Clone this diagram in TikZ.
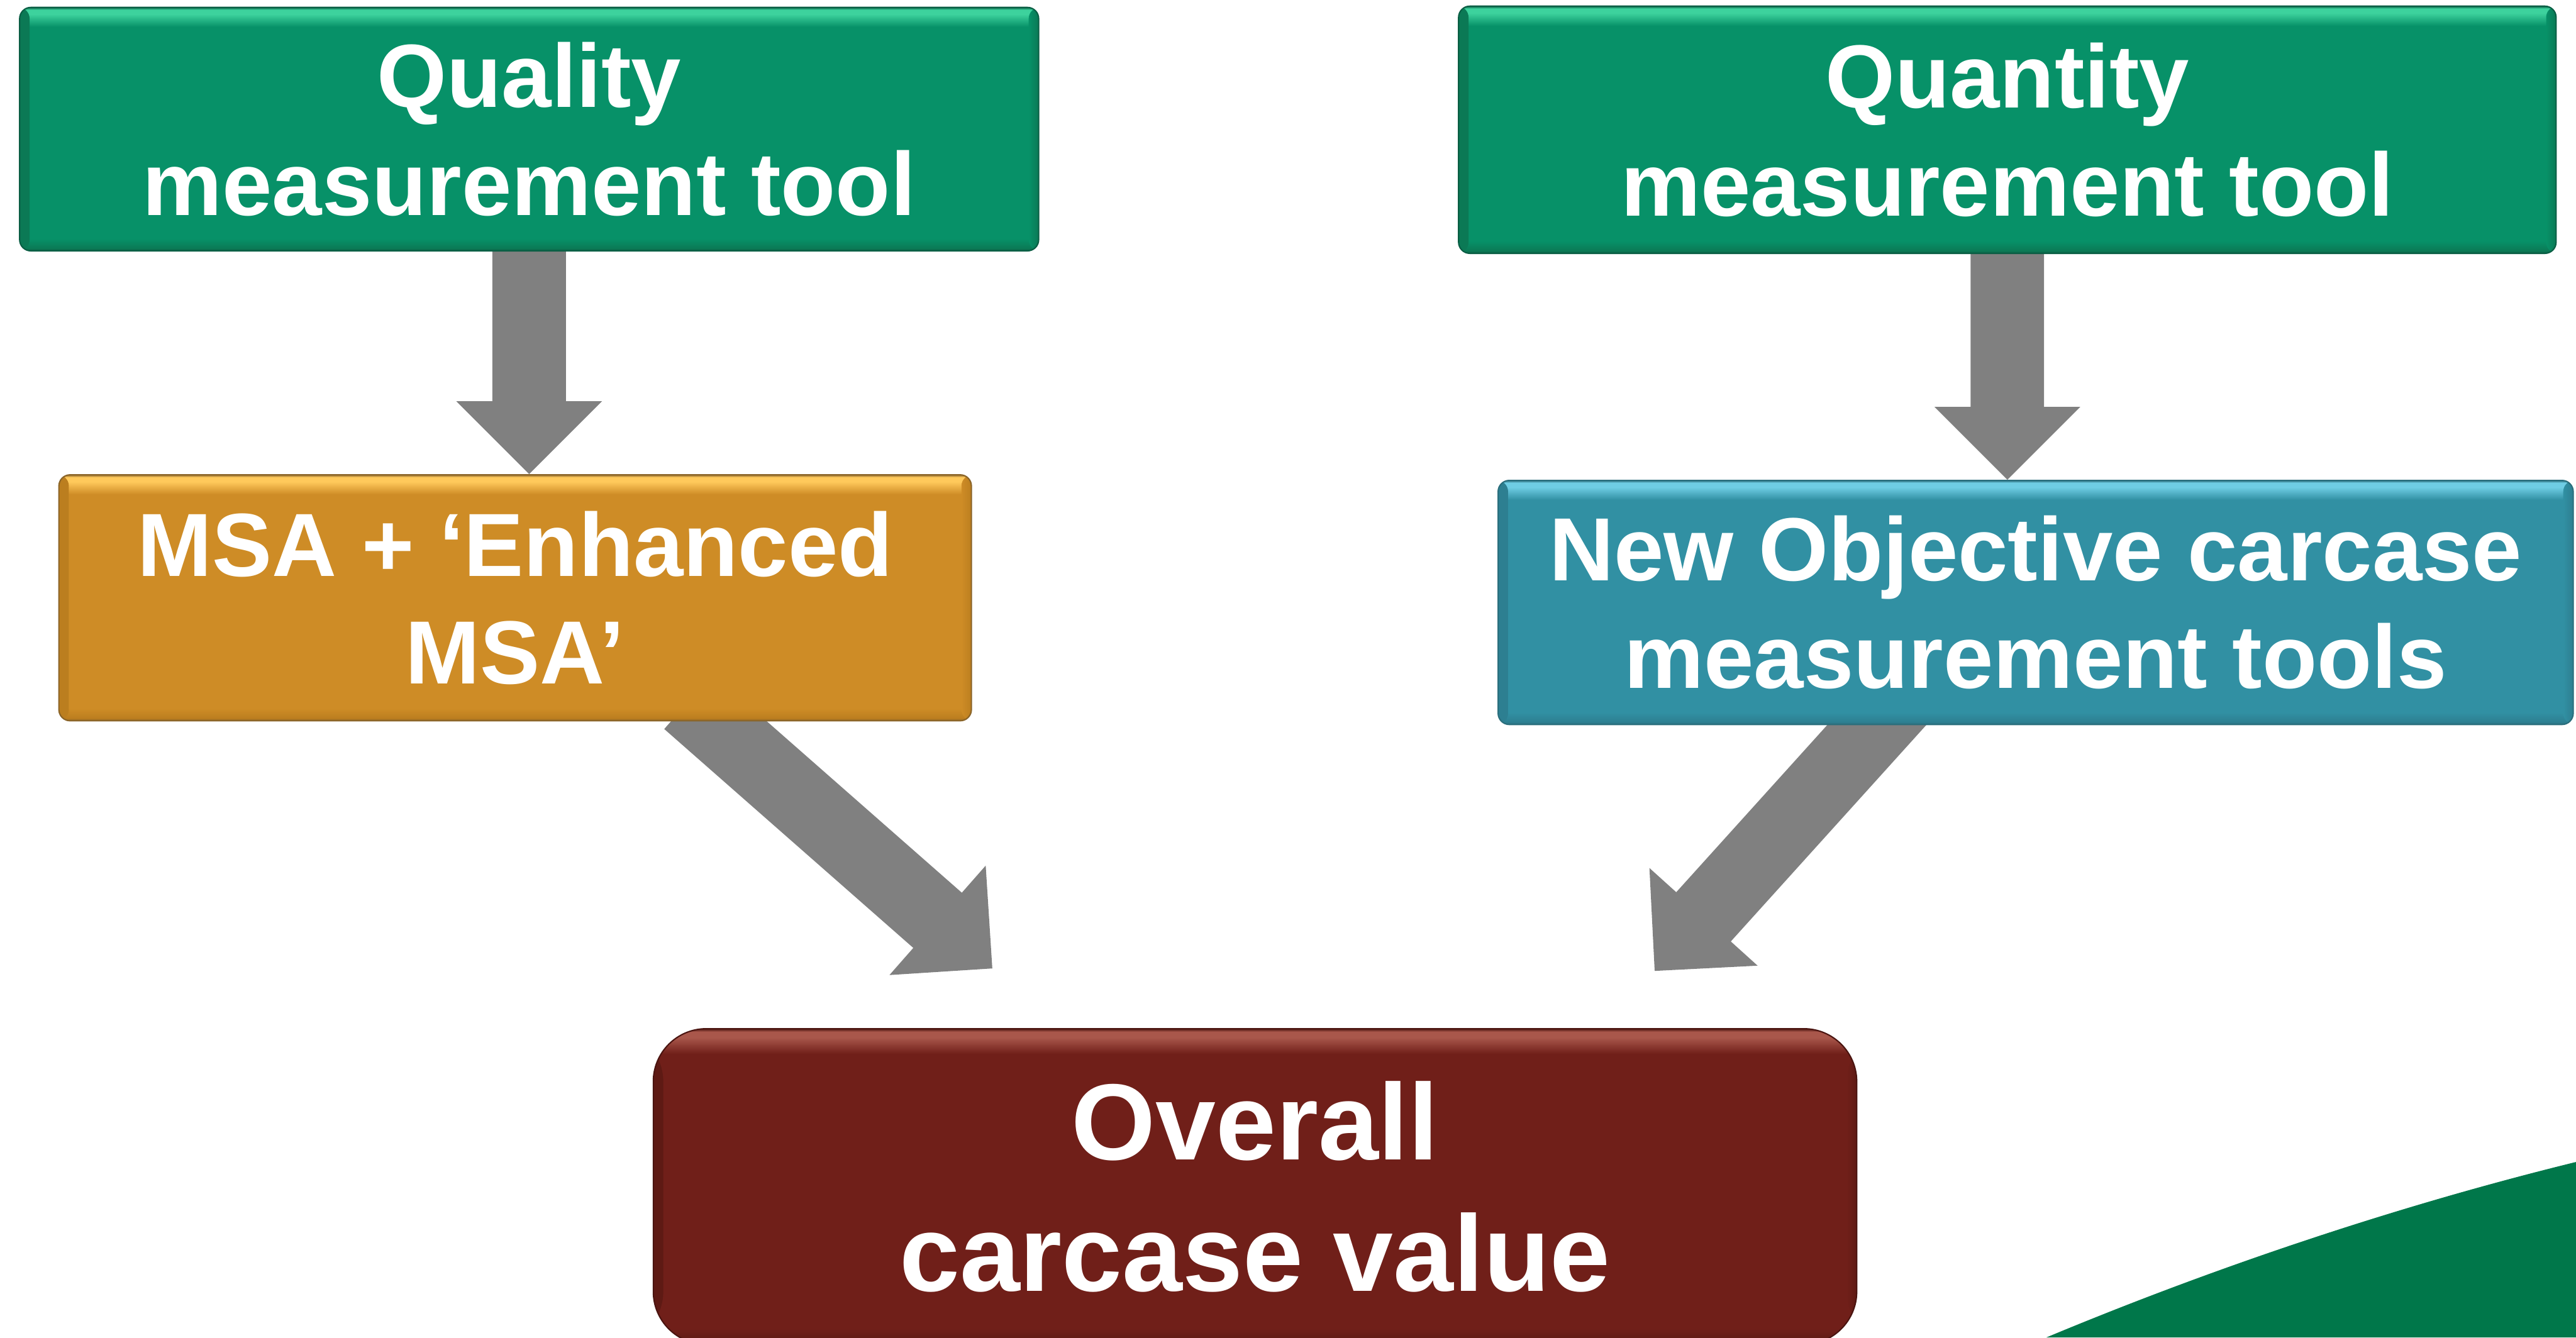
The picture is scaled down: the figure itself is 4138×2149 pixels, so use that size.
\documentclass[tikz,border=0pt]{standalone}
\usepackage{fontspec}
\setmainfont{Liberation Sans}
\usetikzlibrary{calc}

\pgfdeclarelayer{arrowlayer}
\pgfsetlayers{arrowlayer,main}

% box palettes: edge, lower band, body, highlight
\definecolor{grEdge}{HTML}{0A5E44}
\definecolor{grLow}{HTML}{0B7955}
\definecolor{grBody}{HTML}{079168}
\definecolor{grHigh}{HTML}{3DD29D}
\definecolor{orEdge}{HTML}{8A6428}
\definecolor{orLow}{HTML}{BB7E1F}
\definecolor{orBody}{HTML}{CE8C26}
\definecolor{orHigh}{HTML}{FFC95B}
\definecolor{tlEdge}{HTML}{2A6E7C}
\definecolor{tlLow}{HTML}{2D7F91}
\definecolor{tlBody}{HTML}{3190A3}
\definecolor{tlHigh}{HTML}{6ECDE4}
\definecolor{mrEdge}{HTML}{4A1410}
\definecolor{mrLow}{HTML}{5E1A14}
\definecolor{mrBody}{HTML}{701F19}
\definecolor{mrHigh}{HTML}{A9574B}
\definecolor{arrowgray}{HTML}{808080}
\definecolor{cornergreen}{HTML}{00774A}

% vertical bevel: dark rim, darker lower band, flat body, bright top band
\newcommand\declarebevel[5]{%
  \pgfdeclareverticalshading{#1}{100bp}{%
    color(0bp)=(#2); color(25bp)=(#2); color(25.5bp)=(#3);
    color(27.5bp)=(#4); color(71bp)=(#4); color(73.6bp)=(#5);
    color(74.5bp)=(#5); color(75bp)=(#2); color(100bp)=(#2)}}
\declarebevel{grbevel}{grEdge}{grLow}{grBody}{grHigh}
\declarebevel{orbevel}{orEdge}{orLow}{orBody}{orHigh}
\declarebevel{tlbevel}{tlEdge}{tlLow}{tlBody}{tlHigh}
\declarebevel{mrbevel}{mrEdge}{mrLow}{mrBody}{mrHigh}

% thick block arrow from #1 (shaft start, on the axis) to #2 (tip)
\newcommand\blockarrow[2]{%
  \coordinate (ba-h) at ($(#2)!1.17cm!(#1)$);
  \fill[arrowgray]
    ($(#1)!0.59cm!90:(#2)$) -- ($(ba-h)!0.59cm!90:(#2)$) --
    ($(ba-h)!1.17cm!90:(#2)$) -- (#2) --
    ($(ba-h)!1.17cm!-90:(#2)$) -- ($(ba-h)!0.59cm!-90:(#2)$) --
    ($(#1)!0.59cm!-90:(#2)$) -- cycle;}

\begin{document}
\begin{tikzpicture}[x=0.01cm, y=-0.01cm,
  % #1 = palette prefix (gr, or, tl, mr)
  box/.style={rectangle, inner sep=0pt, align=center, text=white,
    font=\bfseries\fontsize{41pt}{49.2pt}\selectfont,
    rounded corners=0.18cm, line width=0.6pt, shade,
    shading=#1bevel, draw=#1Edge,
    path picture={
      \shade[left color=#1Low, right color=#1Body]
        (path picture bounding box.south west) rectangle
        ([xshift=0.16cm]path picture bounding box.north west);
      \shade[left color=#1Body, right color=#1Low]
        ([xshift=-0.16cm]path picture bounding box.south east) rectangle
        (path picture bounding box.north east);
    }},
  bigbox/.style={box=#1, rounded corners=0.85cm,
    font=\bfseries\fontsize{49.5pt}{60pt}\selectfont}
]
\useasboundingbox (0,0) rectangle (4138,2149);
\clip (0,0) rectangle (4138,2149);

% corner swoosh
\fill[cornergreen] (3287,2149) .. controls (3500,2060) and (3800,1950) .. (4138,1867)
  -- (4138,2149) -- cycle;

% boxes
\node[box=gr, minimum width=16.36cm, minimum height=3.91cm] (quality) at (850,207.5)
  {Quality\\measurement tool};
\node[box=gr, minimum width=17.62cm, minimum height=3.97cm] (quantity) at (3224.5,208.5)
  {Quantity\\measurement tool};
\node[box=or, minimum width=14.65cm, minimum height=3.95cm] (msa) at (827.5,960.5)
  {MSA + ‘Enhanced\\MSA’};
\node[box=tl, minimum width=17.26cm, minimum height=3.92cm] (objective) at (3270,968)
  {New Objective carcase\\measurement tools};
\node[bigbox=mr, minimum width=19.32cm, minimum height=5.07cm] (overall) at (2016,1906.5)
  {Overall\\carcase value};

% arrow ends
\coordinate (tipL) at (1594,1556);
\coordinate (startL) at ($(tipL)+(-488,-429)$);
\coordinate (tipR) at (2658,1560);
\coordinate (startR) at ($(tipR)+(435.5,-482.3)$);

\begin{pgfonlayer}{arrowlayer}
  \blockarrow{quality.center}{quality.center |- msa.north}
  \blockarrow{quantity.center}{quantity.center |- objective.north}
  \blockarrow{startL}{tipL}
  \blockarrow{startR}{tipR}
\end{pgfonlayer}
\end{tikzpicture}
\end{document}
